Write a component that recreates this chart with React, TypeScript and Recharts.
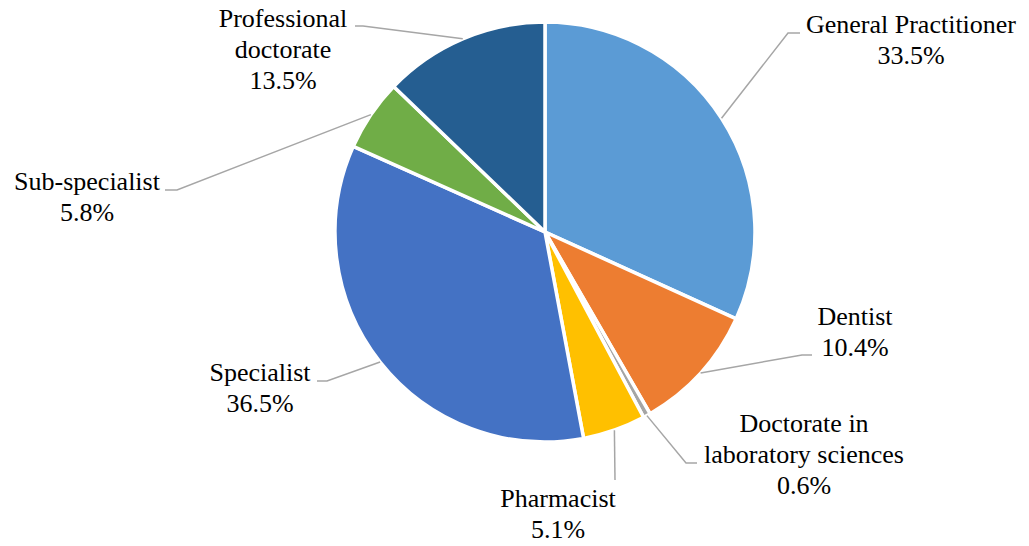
import React from "react";
import { PieChart, Pie, Cell } from "recharts";

// categories in drawing order (clockwise from 12 o'clock)
const categories = [
  "General Practitioner",
  "Dentist",
  "Doctorate in\nlaboratory sciences",
  "Pharmacist",
  "Specialist",
  "Sub-specialist",
  "Professional\ndoctorate",
];
const shares = [33.5, 10.4, 0.6, 5.1, 36.5, 5.8, 13.5];
const sliceColors = ["#5B9BD5", "#ED7D31", "#A5A5A5", "#FFC000", "#4472C4", "#70AD47", "#255E91"];

// label placement relative to the pie centre: elbow of leader line, end of leader line, text centre / first baseline
const labelSpots = [
  { ex: 243, ey: -199, hx: 255, tx: 366, ty: -199 },
  { ex: 257, ey: 123, hx: 267, tx: 310, ty: 93 },
  { ex: 141, ey: 231, hx: 152, tx: 259, ty: 200 },
  { ex: 70, ey: 248, hx: 70, tx: 13, ty: 275 },
  { ex: -218, ey: 149, hx: -228, tx: -285, ty: 149 },
  { ex: -368, ey: -42, hx: -380, tx: -458, ty: -42 },
  { ex: -182, ey: -206, hx: -190, tx: -262, ty: -205 },
];

const data = categories.map((name, i) => ({ name, value: shares[i] }));

const W = 1029;
const H = 546;
const CX = 545;
const CY = 232;
const RADIAN = Math.PI / 180;
const LINE_H = 31;

// leader lines come from the pie's own geometry (midAngle / outerRadius)
const renderLeader = (props: any) => {
  const { cx, cy, midAngle, outerRadius, index } = props;
  const spot = labelSpots[index];
  const sx = cx + outerRadius * Math.cos(-midAngle * RADIAN);
  const sy = cy + outerRadius * Math.sin(-midAngle * RADIAN);
  return (
    <polyline
      key={`lead-${index}`}
      points={`${sx},${sy} ${cx + spot.ex},${cy + spot.ey} ${cx + spot.hx},${cy + spot.ey}`}
      fill="none"
      stroke="#A6A6A6"
      strokeWidth={1.5}
    />
  );
};

const LabelTexts = () => (
  <svg width={W} height={H} style={{ position: "absolute", left: 0, top: 0, pointerEvents: "none" }}>
    {categories.map((name, i) => {
      const spot = labelSpots[i];
      const lines = [...name.split("\n"), `${shares[i]}%`];
      return lines.map((t, k) => (
        <text
          key={`${i}-${k}`}
          x={CX + spot.tx}
          y={CY + spot.ty + k * LINE_H}
          textAnchor="middle"
          fontSize={26}
          fontFamily="Liberation Serif"
          fill="#000"
        >
          {t}
        </text>
      ));
    })}
  </svg>
);

export default function App() {
  return (
    <div style={{ position: "absolute", left: 0, top: 0, width: W, height: H, background: "#fff" }}>
      <PieChart width={W} height={H} margin={{ top: 0, right: 0, bottom: 0, left: 0 }}>
        <Pie
          data={data}
          dataKey="value"
          nameKey="name"
          cx={CX}
          cy={CY}
          outerRadius={210}
          startAngle={90}
          endAngle={-270}
          stroke="#fff"
          strokeWidth={3.5}
          labelLine={false}
          label={renderLeader}
          isAnimationActive={false}
        >
          {data.map((d, i) => (
            <Cell key={d.name} fill={sliceColors[i]} />
          ))}
        </Pie>
      </PieChart>
      <LabelTexts />
    </div>
  );
}
